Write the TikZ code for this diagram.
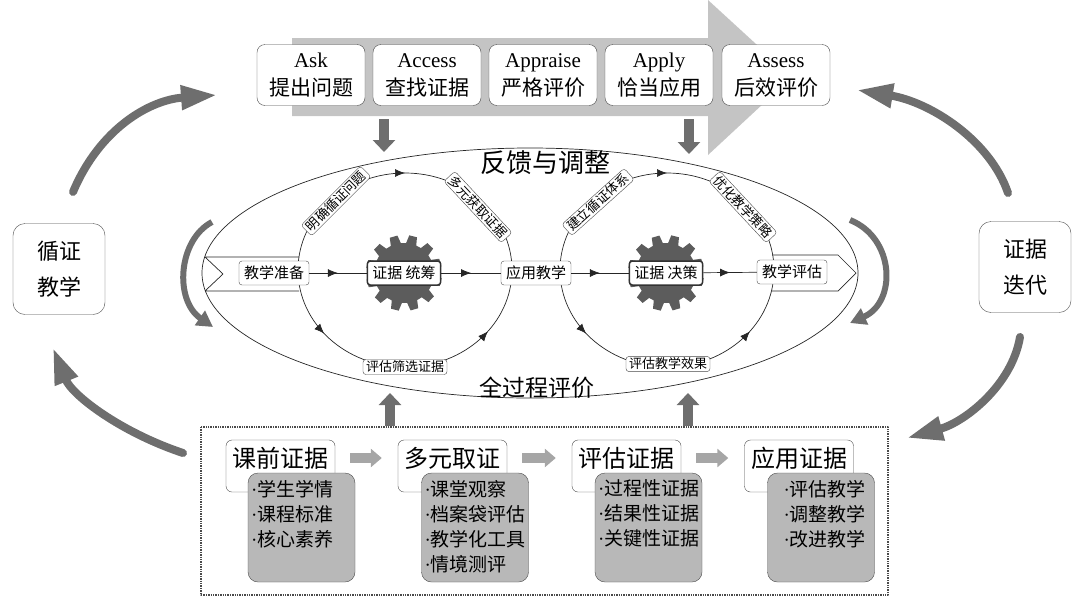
\documentclass[tikz,border=0pt]{standalone}
\usepackage{fontspec}
\setmainfont{Liberation Serif}
\newfontfamily\cjk{Noto Sans CJK SC}
\usetikzlibrary{arrows.meta,calc,decorations.markings}

\definecolor{lightarr}{HTML}{C4C4C4}
\definecolor{darkarr}{HTML}{6E6E6E}
\definecolor{geargray}{HTML}{5C5C5C}
\definecolor{boxgray}{HTML}{B8B8B8}
\definecolor{linegray}{HTML}{4A4A4A}
\definecolor{flatgray}{HTML}{A6A6A6}

\newcommand\li[1]{{\rmfamily\textperiodcentered}#1}
\newcommand\itemlist[1]{\parbox[c][103pt][t]{101pt}{\vspace*{4pt}#1}}

\tikzset{
  stepbox/.style={draw=linegray, fill=white, rounded corners=8pt, minimum width=108, minimum height=61,
    align=center, inner sep=1pt, font=\cjk\fontsize{21}{28}\selectfont},
  sidebox/.style={draw=linegray, fill=white, rounded corners=12pt, minimum width=92, minimum height=91,
    align=center, font=\cjk\fontsize{22}{36}\selectfont},
  flowbox/.style={draw=linegray, fill=white, rounded corners=3pt, inner xsep=5pt, inner ysep=3pt,
    minimum height=24, font=\cjk\fontsize{15}{15}\selectfont},
  keybox/.style={flowbox, draw=black!80, line width=1.5pt},
  taglabel/.style={draw=linegray, fill=white, rounded corners=3pt, inner xsep=3pt, inner ysep=1.5pt,
    font=\cjk\fontsize{13}{13}\selectfont},
  thinline/.style={draw=black!85, line width=0.7pt},
  flowline/.style={draw=black!85, line width=0.7pt},
  midarrow/.style={postaction={decorate}, decoration={markings,
    mark=at position 0.5 with {\arrow{Latex[length=10pt,width=8pt]}}}},
  botarrows/.style={postaction={decorate}, decoration={markings,
    mark=at position 0.22 with {\arrow{Latex[length=10pt,width=8pt]}},
    mark=at position 0.79 with {\arrow{Latex[length=10pt,width=8pt]}}}},
  blockarr/.style={draw=darkarr, line width=10pt, -{Triangle[length=12pt,width=22pt]}},
  flatarr/.style={draw=flatgray, line width=10pt, -{Triangle[length=11pt,width=18pt]}},
  cyclearr/.style={draw=darkarr, line width=8pt, line cap=round, -{Triangle[length=36pt,width=23pt]}},
  endarr/.style={draw=darkarr, line width=6pt, -{Triangle[length=16pt,width=17pt]}},
  titlebox/.style={draw=linegray, fill=white, rounded corners=6pt, minimum width=109,
    text height=24pt, text depth=22pt, inner ysep=3pt, font=\cjk\fontsize{24}{24}\selectfont},
  itembox/.style={draw=linegray, fill=boxgray, rounded corners=10pt, inner sep=3pt,
    font=\cjk\fontsize{19}{25}\selectfont},
  bigtext/.style={font=\cjk\fontsize{26}{26}\selectfont}
}

\begin{document}
\begin{tikzpicture}[x=1pt,y=-1pt,line join=round]
\useasboundingbox (0,0) rectangle (1077,603);

% wide arrow behind the five steps
\fill[lightarr] (292,38) -- (708,38) -- (708,0) -- (792,77) -- (708,155) -- (708,116) -- (292,116) -- cycle;
\foreach \n/\x/\en/\zh in {ask/311/Ask/提出问题, access/427/Access/查找证据, appraise/543/Appraise/严格评价,
    apply/659/Apply/恰当应用, assess/776/Assess/后效评价}
  \node[stepbox] (\n) at (\x,75) {{\rmfamily\en}\\\zh};

% down and up arrows
\coordinate (d1) at (384,119); \coordinate (d1e) at (384,152);
\coordinate (d2) at (689,119); \coordinate (d2e) at (689,154);
\coordinate (u1) at (390,426); \coordinate (u1e) at (390,393);
\coordinate (u2) at (688,426); \coordinate (u2e) at (688,393);
\draw[blockarr] (d1) -- (d1e);
\draw[blockarr] (d2) -- (d2e);
\draw[blockarr] (u1) -- (u1e);
\draw[blockarr] (u2) -- (u2e);

% outer ellipse
\coordinate (eC) at (530,273);
\draw[thinline] (eC) ellipse [x radius=328, y radius=125];
\node[bigtext] (fk) at (545,163) {反馈与调整};
\node[bigtext, font=\cjk\fontsize{23}{23}\selectfont] (qgc) at (537,388) {全过程评价};

% band on the left, pentagon on the right
\draw[thinline] (205,257) -- (299,257) (205,291) -- (299,291) (205,257) -- (223,274) -- (205,291);
\draw[thinline] (772,255) -- (838,255) -- (856,273) -- (838,291) -- (772,291);

% the two loops
\coordinate (lc) at (405,270);
\coordinate (rc) at (667,270);
\foreach \c in {lc,rc}{
  \draw[flowline, midarrow] ($(\c)+(-107,0)$) arc[start angle=180, end angle=360, x radius=107, y radius=97];
  \draw[flowline, botarrows] ($(\c)+(-107,0)$) arc[start angle=180, end angle=0, x radius=107, y radius=97];
}

% gears
\coordinate (gA) at (404,273);
\coordinate (gB) at (666,273);
\foreach \g in {gA,gB}
  \fill[geargray, shift={(\g)}] (0:30) \foreach \a in {0,30,...,330}{
    -- (\a+4:30) -- (\a+8:38) -- (\a+20:38) -- (\a+24:30) -- (\a+30:30)} -- cycle;

% nodes on the middle line
\node[flowbox] (zb) at (274,273) {教学准备};
\node[keybox] (tc) at (404,273) {证据 统筹};
\node[flowbox] (yy) at (536,273) {应用教学};
\node[keybox] (jc) at (666,273) {证据 决策};
\node[flowbox] (pg) at (792,272) {教学评估};
\draw[flowline, midarrow] (zb) -- (tc);
\draw[flowline, midarrow] (tc) -- (yy);
\draw[flowline, midarrow] (yy) -- (jc);
\draw[flowline, midarrow] (jc) -- (pg);

% labels on the loops
\node[taglabel, rotate=45] (mq) at (336,201) {明确循证问题};
\node[taglabel, rotate=-47] (dy) at (478,207) {多元获取证据};
\node[taglabel] (pgsx) at (405,367) {评估筛选证据};
\node[taglabel, rotate=42] (jl) at (598,202) {建立循证体系};
\node[taglabel, rotate=-47] (yh) at (743,207) {优化教学策略};
\node[taglabel] (pgxg) at (668,364) {评估教学效果};

% arrows at the ends of the ellipse
\draw[endarr] (212,222) .. controls (178,240) and (174,300) .. (213,327);
\draw[endarr] (850,220) .. controls (895,238) and (897,302) .. (850,323);

% side boxes and the outer cycle
\node[sidebox] (xz) at (59,269) {循证\\教学};
\node[sidebox] (zj) at (1025,267) {证据\\迭代};
\draw[cyclearr] (73,192) .. controls (100,128) and (150,100) .. (217,95);
\draw[cyclearr] (183,453) .. controls (120,432) and (72,395) .. (53,348);
\draw[cyclearr] (1008,193) .. controls (990,140) and (930,102) .. (857,90);
\draw[cyclearr] (1020,337) .. controls (1012,385) and (965,422) .. (907,438);

% evidence groups
\draw[linegray, densely dotted, line width=1.4pt] (201,427) rectangle (888,595);
\foreach \i/\x/\t in {1/280.5/课前证据, 2/452.5/多元取证, 3/626.5/评估证据, 4/799/应用证据}
  \node[titlebox] (t\i) at (\x,466) {\t};
\node[itembox] (b1) at (301.5,527.5) {\itemlist{\li{学生学情}\\\li{课程标准}\\\li{核心素养}}};
\node[itembox] (b2) at (475,527.5) {\itemlist{\li{课堂观察}\\\li{档案袋评估}\\\li{教学化工具}\\\li{情境测评}}};
\node[itembox] (b3) at (648.5,527.5) {\itemlist{\li{过程性证据}\\\li{结果性证据}\\\li{关键性证据}}};
\node[itembox] (b4) at (821,527.5) {\itemlist{\hspace*{13pt}\li{评估教学}\\\hspace*{13pt}\li{调整教学}\\\hspace*{13pt}\li{改进教学}}};
\foreach \i/\j in {1/2,2/3,3/4}
  \draw[flatarr] ($(t\i.east)+(15,-8)$) -- ($(t\j.west)+(-16,-8)$);
\end{tikzpicture}
\end{document}
